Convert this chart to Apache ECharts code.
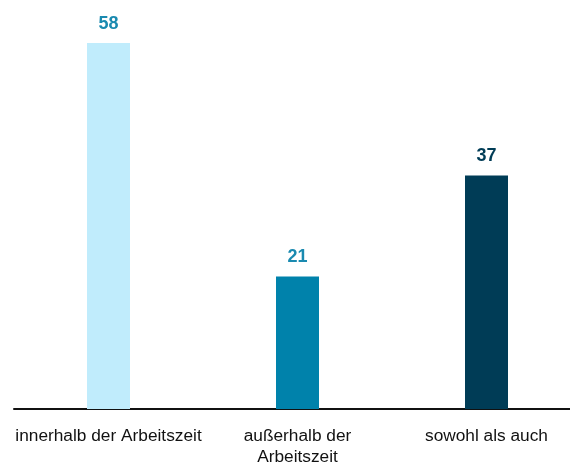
<!DOCTYPE html>
<html>
<head>
<meta charset="utf-8">
<script src="https://cdn.jsdelivr.net/npm/echarts@6/dist/echarts.min.js"></script>
<style>
html,body{margin:0;padding:0;background:#fff;}
#chart{width:570px;height:471px;}
</style>
</head>
<body>
<div id="chart"></div>
<script>
const categories = ["innerhalb der Arbeitszeit", "außerhalb der\nArbeitszeit", "sowohl als auch"];
const values = [58, 21, 37];
const barColors = ["#c0ecfc", "#0082ab", "#003c56"];
const labelColors = ["#1a8ab0", "#1a8ab0", "#003c56"];

const chart = echarts.init(document.getElementById('chart'));
chart.setOption({
  animation: false,
  backgroundColor: '#ffffff',
  grid: {left: 14, right: -11, top: 43, bottom: 62, containLabel: false, outerBoundsMode: 'none'},
  xAxis: {
    type: 'category',
    data: categories,
    axisLine: {lineStyle: {color: '#111111', width: 2}},
    axisTick: {show: false},
    axisLabel: {
      color: '#111111',
      fontFamily: 'Liberation Sans, Arial, sans-serif',
      fontSize: 17.3,
      lineHeight: 21,
      margin: 17,
      interval: 0
    }
  },
  yAxis: {
    type: 'value',
    min: 0,
    max: 58,
    show: false,
    splitLine: {show: false}
  },
  series: [{
    type: 'bar',
    barWidth: 43,
    data: values.map((v, i) => ({
      value: v,
      itemStyle: {color: barColors[i]},
      label: {color: labelColors[i]}
    })),
    label: {
      show: true,
      position: 'top',
      distance: 10,
      fontFamily: 'Liberation Sans, Arial, sans-serif',
      fontWeight: 'bold',
      fontSize: 18
    }
  }]
});
</script>
</body>
</html>
